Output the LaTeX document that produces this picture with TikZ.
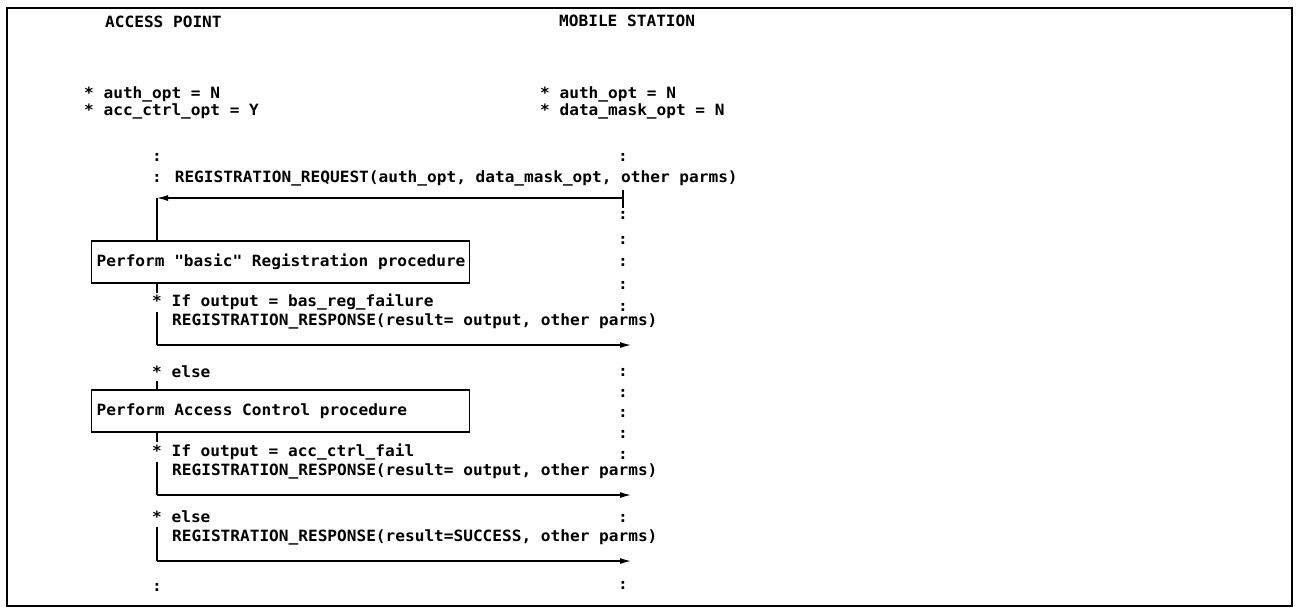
\documentclass[tikz,border=0pt]{standalone}
\usepackage{fontspec}
\newfontfamily\monofam[FakeStretch=1.04]{DejaVu Sans Mono Bold}
\usetikzlibrary{arrows.meta}
\begin{document}
\begin{tikzpicture}[x=1pt,y=-1pt,
  txt/.style={anchor=west,inner sep=0pt,font=\monofam\fontsize{15.5}{18}\selectfont},
  dots/.style={anchor=center,inner sep=0pt,font=\monofam\fontsize{15.5}{18}\selectfont},
  procbox/.style={draw,line width=1.3pt,anchor=west,minimum height=42pt,minimum width=378pt,inner xsep=5pt,inner ysep=0pt,font=\monofam\fontsize{15.5}{18}\selectfont},
  conn/.style={line width=1.3pt},
  msg/.style={line width=1.3pt,-{Latex[length=11pt,width=6pt]}}]
\useasboundingbox (0,0) rectangle (1297,608);
\draw[line width=1.5pt] (7,8) rectangle (1292,606);
% headings
\node[txt] (apT) at (105,22) {ACCESS POINT};
\node[txt] (msT) at (559,21) {MOBILE STATION};
\node[txt] (ap1) at (84,94) {* auth\_opt = N};
\node[txt] (ap2) at (84,111) {* acc\_ctrl\_opt = Y};
\node[txt] (ms1) at (540,94) {* auth\_opt = N};
\node[txt] (ms2) at (540,111) {* data\_mask\_opt = N};
% AP side texts
\node[dots] (apc0) at (157,157) {:};
\node[txt] (req) at (152,178) {: REGISTRATION\_REQUEST(auth\_opt, data\_mask\_opt, other parms)};
\node[procbox] (box1) at (91,262) {\makebox[368pt][l]{Perform "basic" Registration procedure}};
\node[txt] (if1) at (152,302) {* If output = bas\_reg\_failure};
\node[txt] (resp1) at (172,321) {REGISTRATION\_RESPONSE(result= output, other parms)};
\node[txt] (else1) at (152,372) {* else};
\node[procbox] (box2) at (91,411) {\makebox[368pt][l]{Perform Access Control procedure}};
\node[txt] (if2) at (152,452) {* If output = acc\_ctrl\_fail};
\node[txt] (resp2) at (172,471) {REGISTRATION\_RESPONSE(result= output, other parms)};
\node[txt] (else2) at (152,517) {* else};
\node[txt] (resp3) at (172,537) {REGISTRATION\_RESPONSE(result=SUCCESS, other parms)};
\node[dots] (apc1) at (157,587) {:};
% MS lifeline colons
\foreach \yy/\nm in {157/a,215/b,240/c,262/d,285/e,307/f,372/g,393/h,413/i,434/j,455/k,518/l,585/m}
  \node[dots] (msc\nm) at (623,\yy) {:};
% coordinates
\coordinate (msReq) at (623,198);
\coordinate (apReq) at (157,198);
\coordinate (msTickT) at (623,190);
\coordinate (msTickB) at (623,208);
\coordinate (t1) at (157,293);
\coordinate (r1a) at (157,312);
\coordinate (r1b) at (157,345);
\coordinate (r1c) at (631,345);
\coordinate (t2) at (157,381);
\coordinate (t3) at (157,442);
\coordinate (r2a) at (157,462);
\coordinate (r2b) at (157,495);
\coordinate (r2c) at (631,495);
\coordinate (r3a) at (157,527);
\coordinate (r3b) at (157,561);
\coordinate (r3c) at (631,561);
% connectors
\draw[conn] (msTickT) -- (msTickB);
\draw[msg] (msReq) -- (apReq);
\draw[conn] (apReq) -- (apReq |- box1.north);
\draw[conn] (t1 |- box1.south) -- (t1);
\draw[conn] (r1a) -- (r1b);
\draw[msg] (r1b) -- (r1c);
\draw[conn] (t2) -- (t2 |- box2.north);
\draw[conn] (t3 |- box2.south) -- (t3);
\draw[conn] (r2a) -- (r2b);
\draw[msg] (r2b) -- (r2c);
\draw[conn] (r3a) -- (r3b);
\draw[msg] (r3b) -- (r3c);
\end{tikzpicture}
\end{document}
